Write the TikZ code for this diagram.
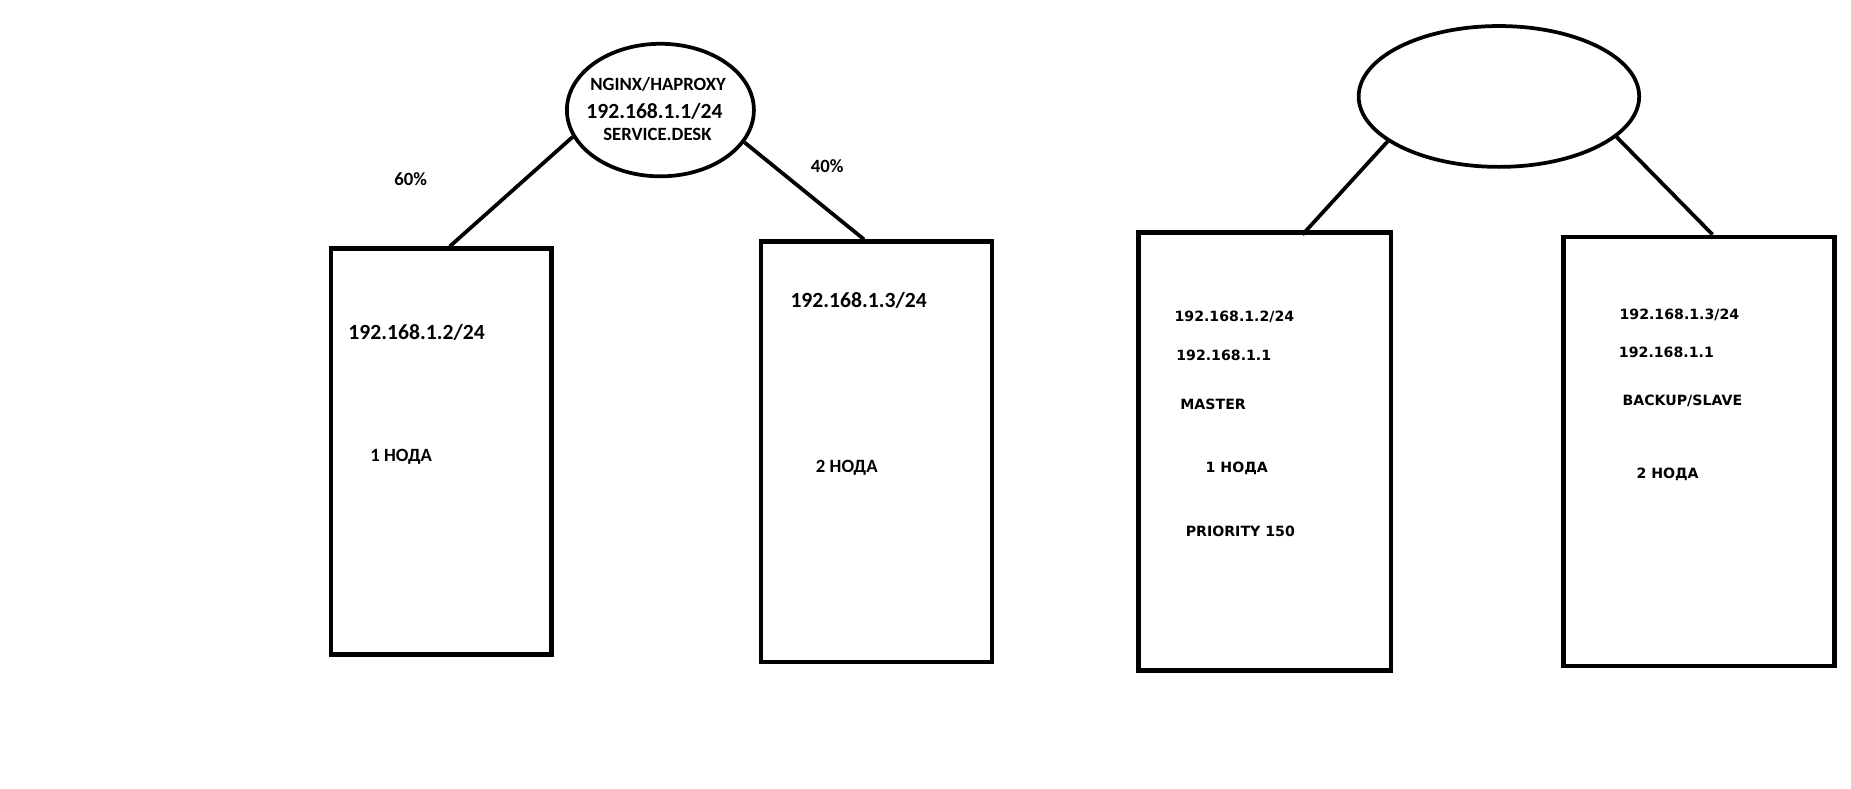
\documentclass[tikz,border=0pt]{standalone}
\usepackage{fontspec}
\usetikzlibrary{shapes,positioning}
\newfontfamily\paintfont{Carlito}
\newfontfamily\wordfont{DejaVu Sans}

\begin{document}
\begin{tikzpicture}[x=0.2mm, y=-0.2mm,
    box/.style={rectangle, draw, line width=2pt, inner sep=0pt},
    oval/.style={ellipse, draw, line width=1.8pt, inner sep=0pt},
    wire/.style={line width=1.8pt},
    big/.style={font=\paintfont\bfseries\fontsize{10.4}{12}\selectfont, inner sep=0pt},
    small/.style={font=\paintfont\bfseries\fontsize{9}{11}\selectfont, inner sep=0pt},
    tiny/.style={font=\wordfont\bfseries\fontsize{6.8}{8}\selectfont, inner sep=0pt}]
    \useasboundingbox (0,0) rectangle (1564,666);

    % balancer with two weighted nodes
    \node [oval, minimum width=31.6mm, minimum height=22.4mm] (lb) at (558,93) {};
    \node [small] (lbname) at (556,71) {NGINX/HAPROXY};
    \node [big] (lbip) at (553,94) {192.168.1.1/24};
    \node [small] (lbhost) at (555.5,114) {SERVICE.DESK};

    \node [box, minimum width=37.2mm, minimum height=68.6mm] (box1) at (373,381.5) {};
    \node [box, minimum width=39mm, minimum height=71mm, right of=box1, node distance=73.5mm] (box2) {};
    \node [big] (ip1) at (352,280.5) {192.168.1.2/24};
    \node [small] (n1) at (339,386) {1 НОДА};
    \node [big] (ip2) at (725.5,254) {192.168.1.3/24};
    \node [small] (n2) at (715.5,395.5) {2 НОДА};

    \node [small] (w1) at (347,151) {60\%};
    \node [small] (w2) at (699,140) {40\%};

    \draw [wire] (lb.197) -- ([xshift=1.4mm]box1.north);
    \draw [wire] (lb.339.6) -- ([xshift=-2.1mm]box2.north);

    % virtual ip with master and backup
    \node [oval, minimum width=47.4mm, minimum height=23.8mm] (vip) at (1266.5,81.5) {};

    \node [box, minimum width=42.6mm, minimum height=74mm, right of=box2, node distance=65.6mm] (box3) {};
    \node [box, minimum width=45.8mm, minimum height=72.6mm, right of=box3, node distance=73.4mm] (box4) {};

    \node [tiny] (ip3) at (1043,268) {192.168.1.2/24};
    \node [tiny] (gw3) at (1034,300.5) {192.168.1.1};
    \node [tiny] (role3) at (1025,341.7) {MASTER};
    \node [tiny] (n3) at (1045,396) {1 НОДА};
    \node [tiny] (prio3) at (1048,449) {PRIORITY 150};

    \node [tiny] (ip4) at (1419,266) {192.168.1.3/24};
    \node [tiny] (gw4) at (1408,298) {192.168.1.1};
    \node [tiny] (role4) at (1421.5,339) {BACKUP/SLAVE};
    \node [tiny] (n4) at (1409,401) {2 НОДА};

    \draw [wire] (vip.202.7) -- ([xshift=6.4mm, yshift=-0.7mm]box3.north);
    \draw [wire] (vip.341.9) -- ([xshift=2.3mm]box4.north);
\end{tikzpicture}
\end{document}
